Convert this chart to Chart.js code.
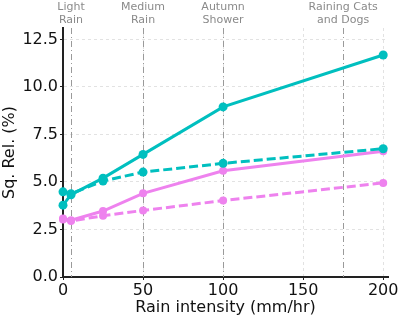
<!DOCTYPE html>
<html>
<head>
<meta charset="utf-8">
<script src="https://cdn.jsdelivr.net/npm/chart.js@4/dist/chart.umd.min.js"></script>
<style>
  html, body { margin: 0; padding: 0; background: #fff; }
  #wrap { width: 403px; height: 318px; }
</style>
</head>
<body>
<div id="wrap"><canvas id="rainChart" width="403" height="318"></canvas></div>
<script>
// rain intensity (mm/hr) where each run was measured
const rainLevels = [0, 5, 25, 50, 100, 200];

// Sq. Rel. (%) per series
const cyanSolid  = [3.78, 4.33, 5.20, 6.45, 8.95, 11.68];
const cyanDashed = [4.48, 4.38, 5.05, 5.52, 5.98, 6.75];
const pinkSolid  = [3.08, 2.99, 3.47, 4.40, 5.59, 6.62];
const pinkDashed = [3.02, 2.95, 3.22, 3.50, 4.02, 4.95];

// axis ticks
const xTicks = [0, 50, 100, 150, 200];
const yTicks = [0, 2.5, 5, 7.5, 10, 12.5];

// rain-type markers along the x axis
const rainMarks  = [5, 50, 100, 175];
const rainLabels = [["Light", "Rain"], ["Medium", "Rain"], ["Autumn", "Shower"], ["Raining Cats", "and Dogs"]];

const CYAN = "#00bfbf";
const PINK = "#ee82ee";
const FONT = "'DejaVu Sans', sans-serif";

function toPoints(values) {
    return rainLevels.map((x, i) => ({ x, y: values[i] }));
}

function series(values, color, dashed, radius) {
    return {
        data: toPoints(values),
        borderColor: color,
        backgroundColor: color,
        borderWidth: 3,
        borderDash: dashed ? [9, 4] : [],
        pointRadius: radius,
        pointHoverRadius: radius,
        pointBorderWidth: 0,
        tension: 0,
        clip: false
    };
}

/**
 * Dash-dot rain-type lines with their captions above the plot
 */
const rainMarkPlugin = {
    id: "rainMarks",
    beforeDatasetsDraw(chart) {
        const { ctx, chartArea, scales } = chart;
        ctx.save();
        ctx.strokeStyle = "#9a9a9a";
        ctx.lineWidth = 1;
        ctx.setLineDash([6, 3, 1, 3]);
        rainMarks.forEach(v => {
            const x = Math.round(scales.x.getPixelForValue(v)) + 0.5;
            ctx.beginPath();
            ctx.moveTo(x, chartArea.top);
            ctx.lineTo(x, chartArea.bottom);
            ctx.stroke();
        });
        ctx.restore();
    },
    afterDraw(chart) {
        const { ctx, scales } = chart;
        ctx.save();
        ctx.fillStyle = "#8a8a8a";
        ctx.font = "11px " + FONT;
        ctx.textAlign = "center";
        ctx.textBaseline = "middle";
        rainMarks.forEach((v, i) => {
            const x = scales.x.getPixelForValue(v);
            rainLabels[i].forEach((line, j) => ctx.fillText(line, x, 7.5 + j * 12.5));
        });
        ctx.restore();
    }
};

new Chart(document.getElementById("rainChart"), {
    type: "line",
    data: {
        datasets: [
            series(cyanSolid, CYAN, false, 4.5),
            series(cyanDashed, CYAN, true, 4.5),
            series(pinkSolid, PINK, false, 4),
            series(pinkDashed, PINK, true, 4)
        ]
    },
    plugins: [rainMarkPlugin],
    options: {
        responsive: false,
        animation: false,
        events: [],
        layout: { padding: { top: 28, right: 15, left: 0, bottom: 0 } },
        plugins: { legend: { display: false }, tooltip: { enabled: false } },
        scales: {
            x: {
                type: "linear",
                min: 0,
                max: 203,
                afterBuildTicks: s => { s.ticks = xTicks.map(value => ({ value })); },
                afterFit: s => { s.height = 41; },
                border: { display: true, color: "#222", width: 2, dash: [3, 3] },
                grid: { color: "#e2e2e2", lineWidth: 1, tickColor: "#222", tickLength: 3, tickBorderDash: [] },
                ticks: { color: "#111", font: { family: FONT, size: 16 }, padding: 1, maxRotation: 0 },
                title: {
                    display: true,
                    text: "Rain intensity (mm/hr)",
                    color: "#111",
                    font: { family: FONT, size: 16 },
                    padding: { top: 0, bottom: 1 }
                }
            },
            y: {
                min: 0,
                max: 13.1,
                afterBuildTicks: s => { s.ticks = yTicks.map(value => ({ value })); },
                afterFit: s => { s.width = 63; },
                border: { display: true, color: "#222", width: 2, dash: [3, 3] },
                grid: { color: "#e2e2e2", lineWidth: 1, tickColor: "#222", tickLength: 3, tickBorderDash: [] },
                ticks: {
                    color: "#111",
                    font: { family: FONT, size: 16 },
                    padding: 2,
                    callback: v => Number(v).toFixed(1)
                },
                title: {
                    display: true,
                    text: "Sq. Rel. (%)",
                    color: "#111",
                    font: { family: FONT, size: 16 },
                    padding: 0
                }
            }
        }
    }
});
</script>
</body>
</html>
